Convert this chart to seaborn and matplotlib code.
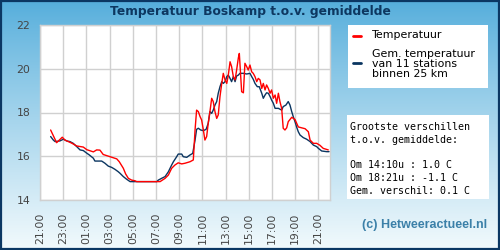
import numpy as np
import pandas as pd
import seaborn as sns
import matplotlib.pyplot as plt
from matplotlib.patches import Rectangle
from matplotlib.lines import Line2D

# minutes after 21:00 and temperature (C)
red_min = [55, 86, 115, 129, 164, 190, 224, 242, 276, 293, 310, 327, 362, 397, 410,
           431, 443, 457, 474, 491, 500, 621, 647, 664, 681, 698, 715, 733, 750, 776,
           793, 802, 810, 819, 828, 836, 845, 853, 862, 870, 879, 888, 896, 905, 914,
           922, 931, 940, 948, 957, 966, 974, 983, 991, 1000, 1009, 1017, 1026, 1031,
           1043, 1052, 1060, 1069, 1077, 1086, 1095, 1103, 1112, 1121, 1129, 1138,
           1147, 1155, 1164, 1172, 1181, 1190, 1198, 1207, 1216, 1224, 1233, 1241,
           1250, 1258, 1267, 1276, 1284, 1302, 1319, 1328, 1336, 1353, 1371, 1388,
           1397, 1414, 1431, 1448, 1465, 1491]
red_temp = [17.2, 16.62, 16.87, 16.74, 16.6, 16.47, 16.42, 16.3, 16.2, 16.29, 16.28,
            16.08, 15.98, 15.88, 15.75, 15.45, 15.19, 14.99, 14.91, 14.88, 14.84,
            14.84, 14.99, 15.14, 15.45, 15.6, 15.7, 15.65, 15.68, 15.75, 15.83, 17.2,
            18.11, 18.04, 17.81, 17.66, 17.2, 16.74, 16.9, 17.5, 18.04, 18.65, 18.5,
            18.04, 17.73, 17.89, 18.73, 19.33, 19.79, 19.49, 19.33, 19.71, 20.32,
            20.1, 19.64, 19.49, 19.94, 20.5, 20.7, 18.95, 18.9, 20.25, 20.1, 19.94,
            20.17, 19.86, 19.79, 19.64, 19.41, 19.56, 19.49, 19.1, 19.33, 19.03,
            19.26, 19.1, 18.88, 19.03, 18.65, 18.8, 18.42, 18.88, 18.5, 18.19, 17.28,
            17.2, 17.3, 17.58, 17.78, 17.68, 17.5, 17.34, 17.3, 17.26, 17.12, 16.74,
            16.59, 16.59, 16.5, 16.36, 16.29]

avg_min = [55, 69, 78, 103, 121, 138, 155, 172, 190, 207, 224, 242, 255, 276, 284,
           319, 336, 353, 371, 388, 405, 414, 431, 448, 466, 604, 612, 629, 647, 664,
           681, 690, 707, 715, 733, 741, 759, 776, 790, 802, 810, 819, 831, 845, 859,
           870, 879, 888, 896, 905, 914, 922, 931, 940, 948, 957, 966, 974, 983, 991,
           1000, 1009, 1017, 1026, 1034, 1052, 1069, 1086, 1095, 1103, 1112, 1124,
           1134, 1147, 1155, 1164, 1172, 1181, 1190, 1198, 1207, 1216, 1233, 1250,
           1258, 1272, 1284, 1293, 1302, 1310, 1319, 1328, 1336, 1345, 1362, 1379,
           1397, 1414, 1431, 1440, 1457, 1483, 1495]
avg_temp = [16.9, 16.74, 16.67, 16.7, 16.78, 16.7, 16.67, 16.59, 16.44, 16.29, 16.26,
            16.14, 16.06, 15.91, 15.78, 15.78, 15.68, 15.55, 15.49, 15.4, 15.29,
            15.22, 15.07, 14.95, 14.84, 14.84, 14.91, 14.99, 15.07, 15.29, 15.6,
            15.75, 15.98, 16.1, 16.1, 15.98, 15.95, 16.06, 16.13, 16.74, 17.23, 17.28,
            17.2, 17.17, 17.23, 17.5, 18.04, 17.96, 18.11, 18.34, 18.5, 18.88, 19.18,
            19.41, 19.33, 19.41, 19.64, 19.71, 19.56, 19.41, 19.64, 19.41, 19.67,
            19.71, 19.79, 19.79, 19.76, 19.79, 19.64, 19.52, 19.33, 19.18, 19.18,
            18.88, 18.65, 18.8, 18.9, 18.88, 18.73, 18.57, 18.42, 18.19, 18.19, 18.11,
            18.27, 18.34, 18.5, 18.34, 18.04, 17.81, 17.58, 17.32, 17.12, 16.97,
            16.85, 16.78, 16.67, 16.51, 16.44, 16.36, 16.24, 16.21, 16.21]

tick_labels = ["21:00", "23:00", "01:00", "03:00", "05:00", "07:00", "09:00",
               "11:00", "13:00", "15:00", "17:00", "19:00", "21:00"]
stats_lines = ["Grootste verschillen", "t.o.v. gemiddelde:", "",
               "Om 14:10u : 1.0 C", "Om 18:21u : -1.1 C", "Gem. verschil: 0.1 C"]

sns.set_style("white")
plt.rcParams['font.family'] = ['DejaVu Sans']

W, H = 500, 250
fig = plt.figure(figsize=(5, 2.5), dpi=100)

# background gradient
bg = fig.add_axes([0, 0, 1, 1], zorder=-5)
grad = np.linspace(0, 1, 256)[:, None]
top = np.array([0.33, 0.68, 0.86])
bot = np.array([0.95, 0.98, 0.99])
img = top + (bot - top) * grad[..., None] ** 0.9
bg.imshow(img, aspect="auto", extent=[0, 1, 0, 1])
bg.set_axis_off()
fig.patches.append(Rectangle((0.002, 0.004), 0.996, 0.992, transform=fig.transFigure,
                             fill=False, edgecolor="#0b3763", linewidth=1.6, zorder=10))


def fx(px):
    return px / W


def fy(py):
    return 1 - py / H


ax = fig.add_axes([fx(40), fy(200), fx(330) - fx(40), fy(25) - fy(200)])
ax.set_facecolor("white")

red_df = pd.DataFrame({"min": red_min, "temp": red_temp})
avg_df = pd.DataFrame({"min": avg_min, "temp": avg_temp})
sns.lineplot(data=avg_df, x="min", y="temp", ax=ax, color="#0a3560", linewidth=1.0,
             estimator=None, zorder=3)
sns.lineplot(data=red_df, x="min", y="temp", ax=ax, color="#ff0000", linewidth=1.0,
             estimator=None, zorder=4)

ax.set_xlim(0, 1500)
ax.set_ylim(14, 22)
ax.set_xticks(np.arange(0, 1441, 120))
ax.set_xticklabels(tick_labels, rotation=90)
ax.set_yticks([14, 16, 18, 20, 22])
ax.grid(True, color="#d0d0d0", linewidth=1.0)
ax.set_axisbelow(True)
ax.set_xlabel("")
ax.set_ylabel("")
ax.tick_params(axis="both", length=0, colors="#444444", labelsize=7.8)
ax.tick_params(axis="x", pad=9)
ax.tick_params(axis="y", pad=7)
for s in ax.spines.values():
    s.set_color("#d0d0d0")
    s.set_linewidth(1.0)

fig.text(0.5, fy(11), "Temperatuur Boskamp t.o.v. gemiddelde", ha="center", va="center",
         fontsize=8.8, fontweight="bold", color="#0d3760")

# legend box
fig.patches.append(Rectangle((fx(348), fy(88)), fx(488) - fx(348), fy(25) - fy(88),
                             transform=fig.transFigure, facecolor="white",
                             edgecolor="none", zorder=5))
fig.lines.append(Line2D([fx(353), fx(361)], [fy(36), fy(36)], transform=fig.transFigure,
                        color="#ff0000", linewidth=2, zorder=6))
fig.lines.append(Line2D([fx(353), fx(361)], [fy(63), fy(63)], transform=fig.transFigure,
                        color="#0a3560", linewidth=2, zorder=6))
fig.text(fx(372), fy(35), "Temperatuur", ha="left", va="center", fontsize=7.9,
         color="black", zorder=7)
fig.text(fx(372), fy(64), "Gem. temperatuur\nvan 11 stations\nbinnen 25 km", ha="left",
         va="center", fontsize=7.9, color="black", linespacing=0.95, zorder=7)

# stats box
fig.patches.append(Rectangle((fx(347), fy(199)), fx(489) - fx(347), fy(115) - fy(199),
                             transform=fig.transFigure, facecolor="white",
                             edgecolor="none", zorder=5))
for i, line in enumerate(stats_lines):
    fig.text(fx(350), fy(127 + i * 12.8), line, ha="left", va="center",
             family="DejaVu Sans Mono", fontsize=7.2, color="black", zorder=7)

fig.text(fx(487), fy(225), "(c) Hetweeractueel.nl", ha="right", va="center",
         family="Liberation Sans", fontsize=9, fontweight="bold", color="#3b80a8")

fig.savefig("out.png", dpi=100)
